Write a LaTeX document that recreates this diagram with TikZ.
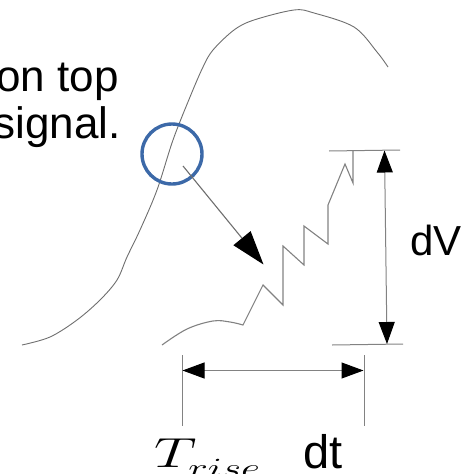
\RequirePackage{fix-cm}
\documentclass[tikz,border=0pt]{standalone}
\usepackage{graphicx}
\usepackage{fontspec}
\setmainfont{Liberation Sans}
\usetikzlibrary{arrows.meta}
\definecolor{curvegray}{RGB}{110,110,110}
\definecolor{zigray}{RGB}{130,130,130}
\definecolor{ringblue}{RGB}{60,105,168}
\tikzset{
  curveline/.style={draw=curvegray, line width=0.9pt},
  zigline/.style={draw=zigray, line width=1.1pt, line join=miter},
  dimline/.style={draw=zigray, line width=1pt},
  ring/.style={draw=ringblue, line width=3.4pt},
  bigarrow/.style={draw=curvegray, line width=1.1pt, -{Triangle[length=34pt,width=22pt,color=black]}},
  dimarrow/.style={draw=zigray, line width=1pt, {Triangle[length=22pt,width=16pt,color=black]}-{Triangle[length=22pt,width=16pt,color=black]}},
  lbl/.style={inner sep=0pt, font=\fontsize{44}{50}\selectfont},
}
\begin{document}
\begin{tikzpicture}[x=1pt,y=-1pt]
\useasboundingbox (0,0) rectangle (468,474);
% main signal curve
\draw[curveline] plot[smooth, tension=0.55] coordinates {
  (22,345) (50,337) (77,320) (100,300) (117,280) (127,257) (140,230)
  (157,190) (173,140) (190,97) (203,67) (213,50) (234,30) (254,20)
  (294,10) (314,13) (354,27) (377,52) (388,67)};
% ring
\node[ring, circle, minimum size=60pt, inner sep=0pt] (ring) at (172,154) {};
% arrow from ring to zoomed view
\coordinate (arrS) at (183,166);
\coordinate (arrE) at (263.5,264.5);
\draw[bigarrow] (arrS) -- (arrE);
% zoomed noisy edge
\draw[zigline] plot[smooth, tension=0.6] coordinates {(162,345) (187,329) (213,321) (230,322) (243,325)}
  -- (263,285) -- (283,305) -- (283,246) -- (304,265) -- (304,226) -- (328,244)
  -- (328,205) -- (345,164) -- (353,183) -- (353,150);
% dV dimension
\coordinate (topL) at (329,151);
\coordinate (topR) at (400,150);
\coordinate (botL) at (332,345);
\coordinate (botR) at (403,344);
\draw[dimline] (topL) -- (topR);
\draw[dimline] (botL) -- (botR);
\coordinate (dvT) at (384.5,150.5);
\coordinate (dvB) at (387,344);
\draw[dimarrow] (dvT) -- (dvB);
% dt dimension
\coordinate (tL1) at (182,355);
\coordinate (tL2) at (182,426);
\coordinate (tR1) at (364,355);
\coordinate (tR2) at (364,426);
\draw[dimline] (tL1) -- (tL2);
\draw[dimline] (tR1) -- (tR2);
\coordinate (dtL) at (182.5,370.5);
\coordinate (dtR) at (363.5,370.5);
\draw[dimarrow] (dtL) -- (dtR);
% labels
\node[lbl, anchor=base east] (ontop) at (119,91) {on top};
\node[lbl, anchor=base east] (signal) at (121,138) {signal.};
\node[lbl, anchor=base west, font=\fontsize{42}{50}\selectfont] (dV) at (410,255) {dV};
\node[lbl, anchor=base west, font=\fontsize{47}{54}\selectfont] (dt) at (303,468) {dt};
\node[lbl, anchor=base west, font=\fontsize{42}{50}\selectfont] (trise) at (154,467) {\scalebox{1.42}[1]{$T_{\lower5pt\hbox{$\scriptstyle rise$}}$}};
\end{tikzpicture}
\end{document}
